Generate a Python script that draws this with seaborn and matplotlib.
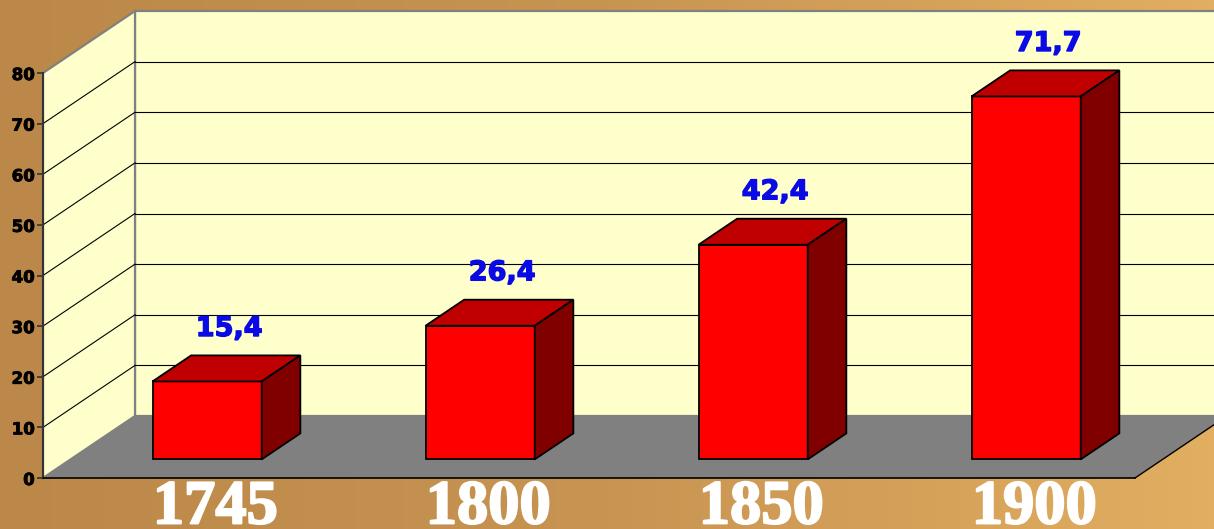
import numpy as np
import matplotlib
matplotlib.use("Agg")
import matplotlib.pyplot as plt
from matplotlib.colors import LinearSegmentedColormap
from matplotlib.patches import Polygon
from matplotlib.transforms import Affine2D
import matplotlib.patheffects as pe
import seaborn as sns

# ---- data ----
years = ["1745", "1800", "1850", "1900"]
values = [15.4, 26.4, 42.4, 71.7]
y_ticks = [0, 10, 20, 30, 40, 50, 60, 70, 80]

# ---- geometry / style ----
W_PX, H_PX = 1214, 529
FRONT_L, FRONT_R, FRONT_T, FRONT_B = 43, 1135, 73, 478   # pixel rect of front plane
CAT_PX = (FRONT_R - FRONT_L) / len(years)
VAL_PX = (FRONT_B - FRONT_T) / 80.0
DX = 92 / CAT_PX          # depth shift in category units
DY = 62 / VAL_PX          # depth shift in value units
D0, BD = 0.30, 0.42       # bar front depth, bar depth
WALL = "#FFFFCC"
FLOOR = "#808080"
FRONT_C, TOP_C, SIDE_C = "#FF0000", "#C00000", "#800000"

fig = plt.figure(figsize=(W_PX / 100, H_PX / 100), dpi=100)

# background gradient
bg = fig.add_axes([0, 0, 1, 1])
cmap = LinearSegmentedColormap.from_list("bg", ["#BC8849", "#C89452", "#E2AE61"])
bg.imshow(np.linspace(0, 1, 256)[None, :], aspect="auto", cmap=cmap, extent=[0, 1, 0, 1])
bg.set_axis_off()

ax = fig.add_axes([FRONT_L / W_PX, (H_PX - FRONT_B) / H_PX,
                   (FRONT_R - FRONT_L) / W_PX, (FRONT_B - FRONT_T) / H_PX])
ax.patch.set_alpha(0)

sns.barplot(x=years, y=values, order=years, width=0.4, color=FRONT_C,
            saturation=1, edgecolor="black", linewidth=1.3, ax=ax, zorder=5)

x_lo, x_hi = -0.5, len(years) - 0.5
ymax = 80
ax.set_xlim(x_lo, x_hi)
ax.set_ylim(0, ymax)

# walls and floor
back = Polygon([(x_lo + DX, DY), (x_hi + DX, DY), (x_hi + DX, ymax + DY), (x_lo + DX, ymax + DY)],
               closed=True, facecolor=WALL, edgecolor="#808080", lw=1.6, zorder=0.5, clip_on=False)
left = Polygon([(x_lo, 0), (x_lo + DX, DY), (x_lo + DX, ymax + DY), (x_lo, ymax)],
               closed=True, facecolor=WALL, edgecolor="#808080", lw=1.6, zorder=0.6, clip_on=False)
floor = Polygon([(x_lo, 0), (x_hi, 0), (x_hi + DX, DY), (x_lo + DX, DY)],
                closed=True, facecolor=FLOOR, edgecolor="none", zorder=0.7, clip_on=False)
for p in (back, left, floor):
    ax.add_patch(p)
ax.plot([x_hi, x_hi + DX], [0, DY], color="black", lw=1.0, zorder=0.8, clip_on=False)

for t in y_ticks[1:-1]:
    ax.plot([x_lo, x_lo + DX], [t, t + DY], color="black", lw=0.8, zorder=0.9, clip_on=False)
    ax.plot([x_lo + DX, x_hi + DX], [t + DY, t + DY], color="black", lw=0.8, zorder=0.9, clip_on=False)

# 3D bar faces
shift = Affine2D().translate(D0 * DX, D0 * DY) + ax.transData
bars = [q for q in ax.patches if q.get_zorder() == 5]
for p, v in zip(bars, values):
    p.set_transform(shift)
    p.set_clip_on(False)
    x, w, h = p.get_x(), p.get_width(), p.get_height()
    a, b = D0 * DX, D0 * DY
    ex, ey = BD * DX, BD * DY
    top = Polygon([(x + a, h + b), (x + w + a, h + b), (x + w + a + ex, h + b + ey), (x + a + ex, h + b + ey)],
                  closed=True, facecolor=TOP_C, edgecolor="black", lw=1.3, zorder=5, clip_on=False)
    side = Polygon([(x + w + a, b), (x + w + a + ex, b + ey), (x + w + a + ex, h + b + ey), (x + w + a, h + b)],
                   closed=True, facecolor=SIDE_C, edgecolor="black", lw=1.3, zorder=5, clip_on=False)
    ax.add_patch(top)
    ax.add_patch(side)
    ax.annotate(f"{v:.1f}".replace(".", ","), xy=(x + w / 2 + a + ex / 2, h + b + ey),
                xytext=(2, 19), textcoords="offset points", ha="center", va="center",
                color="#0A0AE6", fontsize=19.5, fontweight="bold", family="DejaVu Sans",
                zorder=6, annotation_clip=False,
                path_effects=[pe.withStroke(linewidth=1.0, foreground="#0A0AE6")])

# axes styling
ax.set_xlabel("")
ax.set_ylabel("")
for s in ("top", "right"):
    ax.spines[s].set_visible(False)
ax.spines["left"].set_color("#333333")
ax.spines["left"].set_linewidth(1.5)
ax.spines["bottom"].set_color("black")
ax.spines["bottom"].set_linewidth(1.2)
ax.spines["left"].set_zorder(1)
ax.spines["bottom"].set_zorder(1)
ax.grid(False)

ax.set_yticks(y_ticks)
ax.set_yticklabels([str(t) for t in y_ticks], fontsize=12, fontweight="bold", family="DejaVu Sans")
for lab in ax.get_yticklabels():
    lab.set_path_effects([pe.withStroke(linewidth=0.6, foreground="black")])
ax.tick_params(axis="y", direction="out", length=4.5, width=1.2, color="#333333", pad=1.5)

ax.set_xticks(np.arange(len(years)) + D0 * DX + 0.03)
ax.set_xticklabels(years, fontsize=45, fontweight="bold", family="Liberation Serif", color="white")
for lab in ax.get_xticklabels():
    lab.set_path_effects([pe.withStroke(linewidth=1.5, foreground="white")])
ax.tick_params(axis="x", length=0, pad=1)

fig.savefig("out.png", dpi=100)
